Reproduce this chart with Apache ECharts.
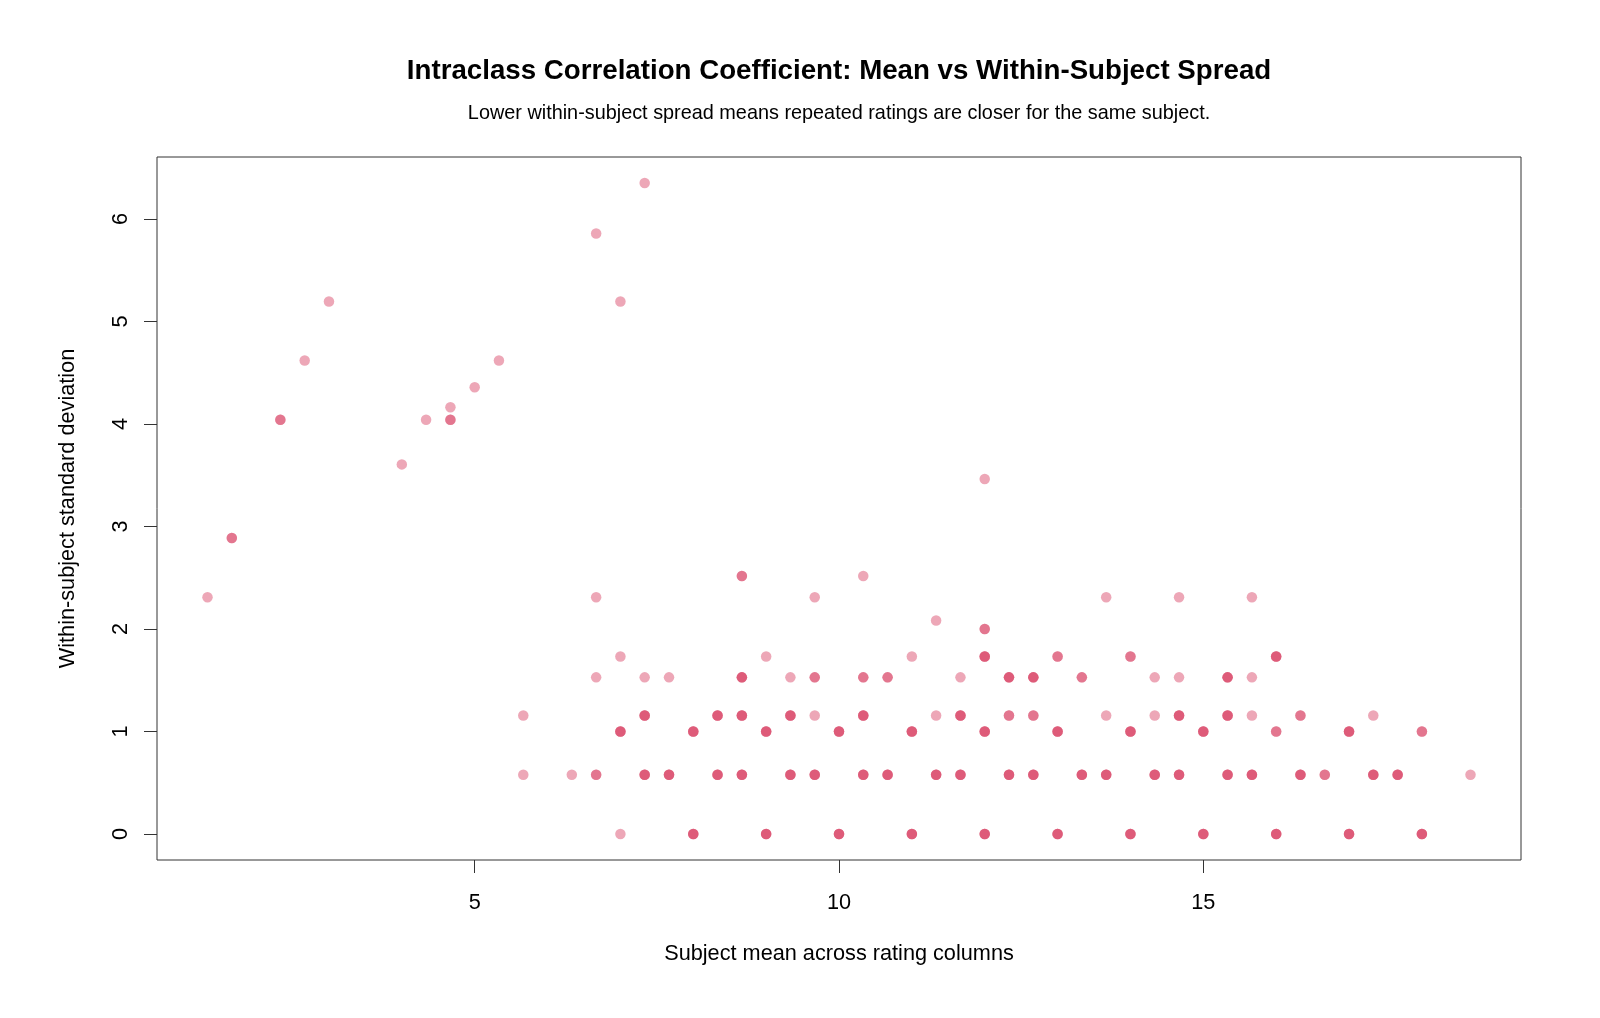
<!DOCTYPE html>
<html>
<head>
<meta charset="utf-8">
<title>ICC mean vs spread</title>
<script src="https://cdn.jsdelivr.net/npm/echarts@6/dist/echarts.min.js"></script>
<style>
    html, body { margin: 0; padding: 0; background: #fff; }
    #icc-scatter { width: 1600px; height: 1018px; }
</style>
</head>
<body>
<div id="icc-scatter"></div>
<script>
// subject mean across the three rating columns
const meanX = [
    1.333, 1.667, 2.333, 2.667, 3.0, 4.0, 4.333, 4.667, 4.667, 5.0, 5.333, 5.667, 5.667, 6.333,
    6.667, 6.667, 6.667, 6.667, 7.0, 7.0, 7.0, 7.0, 7.333, 7.333, 7.333, 7.333, 7.667, 7.667,
    8.0, 8.0, 8.333, 8.333, 8.667, 8.667, 8.667, 8.667, 9.0, 9.0, 9.0, 9.333, 9.333, 9.333,
    9.667, 9.667, 9.667, 9.667, 10.0, 10.0, 10.333, 10.333, 10.333, 10.333, 10.667, 10.667,
    11.0, 11.0, 11.0, 11.333, 11.333, 11.333, 11.667, 11.667, 11.667,
    12.0, 12.0, 12.0, 12.0, 12.0, 12.333, 12.333, 12.333, 12.667, 12.667, 12.667,
    13.0, 13.0, 13.0, 13.333, 13.333, 13.667, 13.667, 13.667, 14.0, 14.0, 14.0,
    14.333, 14.333, 14.333, 14.667, 14.667, 14.667, 14.667, 15.0, 15.0, 15.333, 15.333, 15.333,
    15.667, 15.667, 15.667, 15.667, 16.0, 16.0, 16.0, 16.333, 16.333, 16.667, 17.0, 17.0,
    17.333, 17.333, 17.667, 18.0, 18.0, 18.667
];
// within-subject standard deviation
const sdY = [
    2.309, 2.887, 4.041, 4.619, 5.196, 3.606, 4.041, 4.041, 4.163, 4.359, 4.619, 1.155, 0.577, 0.577,
    5.859, 2.309, 1.528, 0.577, 5.196, 1.732, 1.0, 0, 6.351, 1.528, 1.155, 0.577, 1.528, 0.577,
    1.0, 0, 1.155, 0.577, 2.517, 1.528, 1.155, 0.577, 1.732, 1.0, 0, 1.528, 1.155, 0.577,
    2.309, 1.528, 1.155, 0.577, 1.0, 0, 2.517, 1.528, 1.155, 0.577, 1.528, 0.577,
    1.732, 1.0, 0, 2.082, 1.155, 0.577, 1.528, 1.155, 0.577,
    3.464, 2.0, 1.732, 1.0, 0, 1.528, 1.155, 0.577, 1.528, 1.155, 0.577,
    1.732, 1.0, 0, 1.528, 0.577, 2.309, 1.155, 0.577, 1.732, 1.0, 0,
    1.528, 1.155, 0.577, 2.309, 1.528, 1.155, 0.577, 1.0, 0, 1.528, 1.155, 0.577,
    2.309, 1.528, 1.155, 0.577, 1.732, 1.0, 0, 1.155, 0.577, 0.577, 1.0, 0,
    1.155, 0.577, 0.577, 1.0, 0, 0.577
];
// how many subjects sit on the same (mean, sd) spot
const nSubjects = [
    1, 2, 2, 1, 1, 1, 1, 2, 1, 1, 1, 1, 1, 1,
    1, 1, 1, 2, 1, 1, 3, 1, 1, 1, 3, 3, 1, 3,
    3, 3, 3, 3, 2, 3, 3, 3, 1, 3, 3, 1, 3, 3,
    1, 2, 1, 3, 3, 3, 1, 2, 3, 3, 2, 3,
    1, 3, 3, 1, 1, 3, 1, 3, 3,
    1, 2, 3, 3, 3, 3, 2, 3, 3, 2, 3,
    2, 3, 3, 2, 3, 1, 1, 3, 2, 3, 3,
    1, 1, 3, 1, 1, 3, 3, 3, 3, 3, 3, 3,
    1, 1, 1, 3, 3, 2, 3, 2, 3, 2, 3, 3,
    1, 3, 3, 2, 3, 1
];
const xTicks = [5, 10, 15];
const yTicks = [0, 1, 2, 3, 4, 5, 6];

const FONT = "'Liberation Sans', Arial, sans-serif";

let points = [];
meanX.forEach((x, i) => {
    for (let k = 0; k < nSubjects[i]; k++) {
        points.push([x, sdY[i]]);
    }
});

let chart = echarts.init(document.getElementById('icc-scatter'));
let options = {
    backgroundColor: '#ffffff',
    animation: false,
    graphic: [
        {
            type: 'text',
            x: 839,
            y: 71,
            style: {
                text: 'Intraclass Correlation Coefficient: Mean vs Within-Subject Spread',
                font: 'bold 27.7px ' + FONT,
                fill: '#000',
                align: 'center',
                verticalAlign: 'middle'
            }
        },
        {
            type: 'text',
            x: 839,
            y: 114,
            style: {
                text: 'Lower within-subject spread means repeated ratings are closer for the same subject.',
                font: '19.85px ' + FONT,
                fill: '#000',
                align: 'center',
                verticalAlign: 'middle'
            }
        }
    ],
    grid: {
        left: 157,
        right: 79,
        top: 157,
        bottom: 158,
        show: true,
        borderColor: '#333',
        borderWidth: 1,
        containLabel: false
    },
    xAxis: {
        type: 'value',
        min: 0.64,
        max: 19.36,
        name: 'Subject mean across rating columns',
        nameLocation: 'middle',
        nameGap: 83,
        nameTextStyle: { fontFamily: FONT, fontSize: 21.7, color: '#000' },
        axisLine: { show: false, onZero: false },
        axisTick: {
            show: true,
            inside: false,
            length: 13,
            customValues: xTicks,
            lineStyle: { color: '#333' }
        },
        axisLabel: {
            customValues: xTicks,
            margin: 32,
            fontFamily: FONT,
            fontSize: 21.7,
            color: '#000'
        },
        splitLine: { show: false }
    },
    yAxis: {
        type: 'value',
        min: -0.254,
        max: 6.605,
        name: 'Within-subject standard deviation',
        nameLocation: 'middle',
        nameGap: 78,
        nameTextStyle: { fontFamily: FONT, fontSize: 21.7, color: '#000' },
        axisLine: { show: false, onZero: false },
        axisTick: {
            show: true,
            inside: false,
            length: 13,
            customValues: yTicks,
            lineStyle: { color: '#333' }
        },
        axisLabel: {
            customValues: yTicks,
            rotate: 90,
            margin: 25,
            fontFamily: FONT,
            fontSize: 21.7,
            color: '#000'
        },
        splitLine: { show: false }
    },
    series: [{
        type: 'scatter',
        data: points,
        symbol: 'circle',
        symbolSize: 10.5,
        itemStyle: {
            color: 'rgb(215, 60, 95)',
            opacity: 0.45
        }
    }]
};
chart.setOption(options);
</script>
</body>
</html>
